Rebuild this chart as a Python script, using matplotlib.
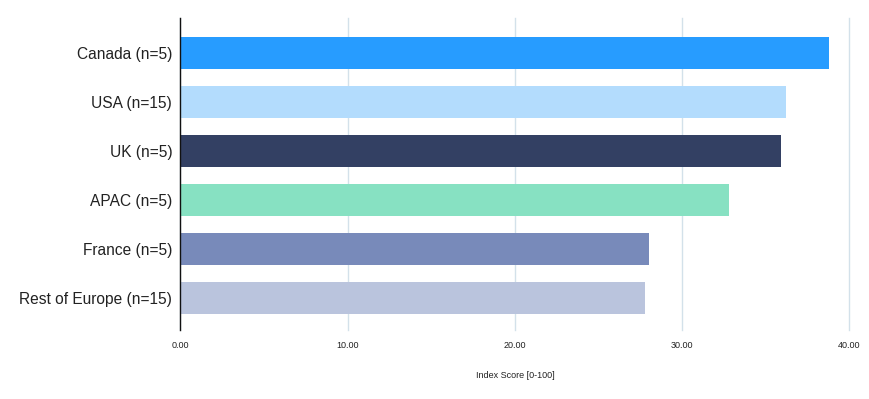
import matplotlib.pyplot as plt

plt.rcParams['font.family'] = ['Liberation Sans', 'DejaVu Sans']

# Data
regions = ['Canada (n=5)', 'USA (n=15)', 'UK (n=5)', 'APAC (n=5)',
           'France (n=5)', 'Rest of Europe (n=15)']
scores = [38.8, 36.2, 35.9, 32.8, 28.0, 27.8]
bar_colors = ['#279cff', '#b3dcfd', '#334063', '#87e1c2', '#788aba', '#bac4dd']
x_ticks = [0, 10, 20, 30, 40]
x_tick_labels = ['0.00', '10.00', '20.00', '30.00', '40.00']

fig = plt.figure(figsize=(8.69, 3.99), dpi=100)
ax = fig.add_axes([0.2077, 0.173, 0.7698, 0.782])

ypos = list(range(len(regions)))
ax.barh(ypos, scores, height=0.65, color=bar_colors, zorder=3)

ax.set_xlim(0, 40)
ax.set_ylim(5.66, -0.71)
ax.set_yticks(ypos)
ax.set_yticklabels(regions, fontsize=11.2, color='#222222')
ax.set_xticks(x_ticks)
ax.set_xticklabels(x_tick_labels, fontsize=6.5, color='#222222')
ax.tick_params(axis='both', length=0)
ax.tick_params(axis='y', pad=6)
ax.tick_params(axis='x', pad=8)

ax.grid(axis='x', color='#d3e1ea', linewidth=1, zorder=0)
ax.grid(axis='y', visible=False)
for gl in ax.get_xgridlines():
    gl.set_clip_on(False)

for s in ['top', 'right', 'bottom']:
    ax.spines[s].set_visible(False)
ax.spines['left'].set_color('#111111')
ax.spines['left'].set_linewidth(1)
ax.spines['left'].set_zorder(4)

ax.set_xlabel('Index Score [0-100]', fontsize=6.5, color='#222222', labelpad=15)

fig.savefig('out.png', dpi=100)
